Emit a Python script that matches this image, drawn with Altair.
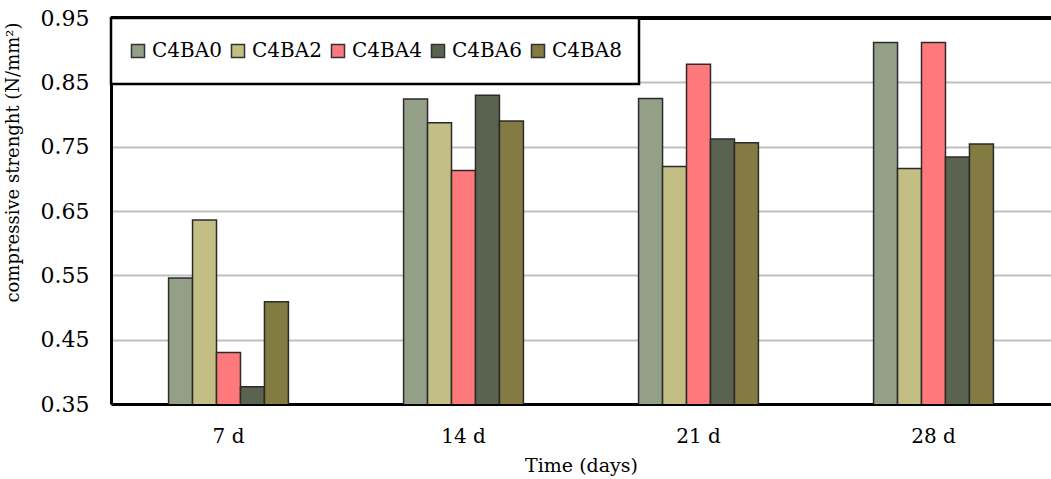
import altair as alt
import pandas as pd

days = ["7 d", "14 d", "21 d", "28 d"]
mixes = ["C4BA0", "C4BA2", "C4BA4", "C4BA6", "C4BA8"]
colors = ["#939F86", "#C3BE84", "#FE797C", "#5A6350", "#837B41"]
values = {
    "C4BA0": [0.546, 0.824, 0.825, 0.912],
    "C4BA2": [0.636, 0.787, 0.719, 0.716],
    "C4BA4": [0.430, 0.713, 0.878, 0.912],
    "C4BA6": [0.377, 0.830, 0.762, 0.734],
    "C4BA8": [0.509, 0.790, 0.756, 0.754],
}

rows = []
for m in mixes:
    for d, v in zip(days, values[m]):
        rows.append({"day": d, "mix": m, "value": v})
df = pd.DataFrame(rows)

FONT = "DejaVu Serif"
W, H = 940, 386

bars = alt.Chart(df).mark_bar(stroke="#2b2b2b", strokeWidth=1.5, clip=True).encode(
    x=alt.X("day:N", sort=days,
            scale=alt.Scale(paddingInner=0.49, paddingOuter=0.245),
            axis=alt.Axis(title="Time (days)", labelAngle=0, ticks=False,
                          domainColor="black", domainWidth=3,
                          labelFont=FONT, labelFontSize=20, labelPadding=22,
                          titleFont=FONT, titleFontSize=19, titleFontWeight="normal",
                          titlePadding=10, labelColor="black", titleColor="black")),
    xOffset=alt.XOffset("mix:N", sort=mixes),
    y=alt.Y("value:Q",
            scale=alt.Scale(domain=[0.35, 0.95], zero=False, nice=False),
            axis=alt.Axis(title="compressive strenght (N/mm²)", format=".2f",
                          values=[0.35, 0.45, 0.55, 0.65, 0.75, 0.85, 0.95],
                          ticks=False, domainColor="black", domainWidth=3,
                          gridColor="#BFBFBF", gridWidth=2,
                          labelFont=FONT, labelFontSize=22, labelPadding=22,
                          labelColor="black", titleColor="black",
                          titleFont=FONT, titleFontSize=18, titleFontWeight="normal",
                          titleX=-98, titleY=144, titleAngle=270,
                          titleAlign="center", titleBaseline="middle")),
    color=alt.Color("mix:N", sort=mixes,
                    scale=alt.Scale(domain=mixes, range=colors),
                    legend=alt.Legend(title=None, orient="none", legendX=0, legendY=0,
                                      direction="horizontal")),
)

top = alt.Chart(df).mark_rule(color="black", strokeWidth=3).encode(
    y=alt.value(0), x=alt.value(0), x2=alt.value(W)
)

chart = alt.layer(bars, top).properties(
    width=W, height=H,
    padding={"left": 111, "top": 18, "right": 0, "bottom": 75},
    autosize="none",
).configure_view(stroke=None).configure_legend(
    strokeColor="black", strokeWidth=2.5, fillColor="white", padding=17,
    clipHeight=32,
    symbolType="square", symbolSize=170, symbolStrokeColor="#333333",
    symbolStrokeWidth=1.5, symbolOpacity=1,
    labelFont=FONT, labelFontSize=20, labelColor="black",
    labelOffset=4, columnPadding=6,
)

chart.save("out.html", embed_options={"renderer": "svg", "actions": False})
